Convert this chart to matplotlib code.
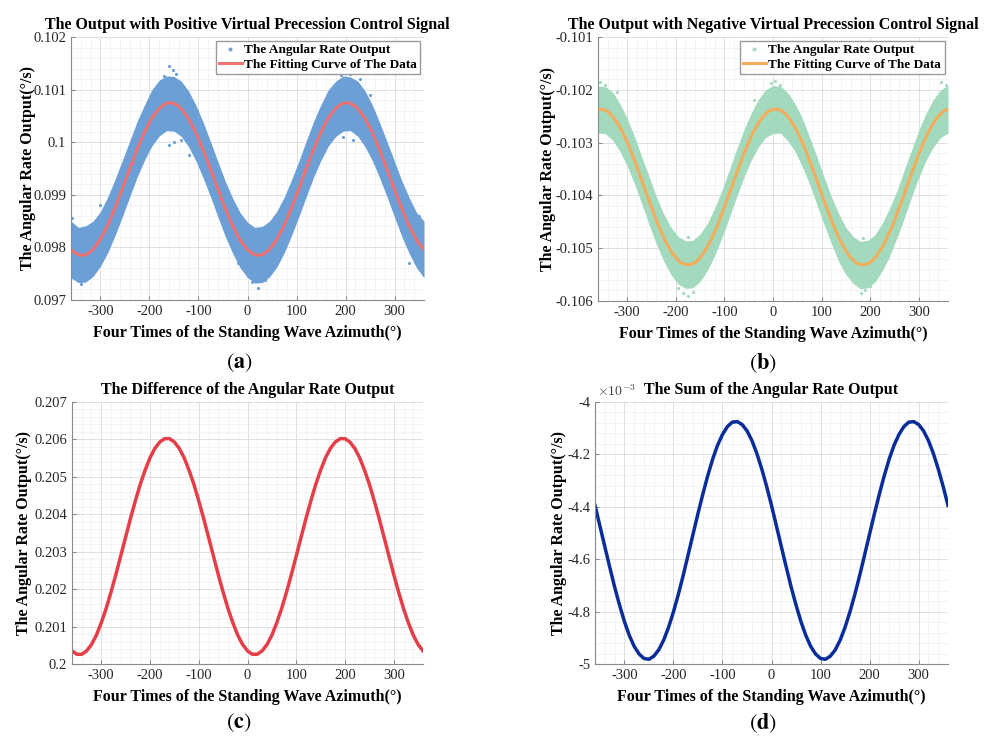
"""Four-panel angular rate output figure (positive / negative precession, difference, sum)."""

import matplotlib

matplotlib.use("Agg")

import matplotlib.pyplot as plt  # noqa: E402
from matplotlib.ticker import AutoMinorLocator, FuncFormatter, MultipleLocator  # noqa: E402

plt.rcParams["font.family"] = ["Liberation Serif", "DejaVu Serif"]
plt.rcParams["axes.unicode_minus"] = False
plt.rcParams["mathtext.fontset"] = "cm"

# ---- data (x: four times the standing wave azimuth, deg) ----
# fitted / smooth curves, sampled every 10 deg
azimuth = [-360, -350, -340, -330, -320, -310, -300, -290, -280, -270, -260, -250, -240,
           -230, -220, -210, -200, -190, -180, -170, -160, -150, -140, -130, -120, -110,
           -100, -90, -80, -70, -60, -50, -40, -30, -20, -10, 0, 10, 20, 30, 40, 50, 60,
           70, 80, 90, 100, 110, 120, 130, 140, 150, 160, 170, 180, 190, 200, 210, 220,
           230, 240, 250, 260, 270, 280, 290, 300, 310, 320, 330, 340, 350, 360]
# noisy-sample band envelopes, read every 15 deg
band_azimuth = [-360, -345, -330, -315, -300, -285, -270, -255, -240, -225, -210, -195, -180,
                -165, -150, -135, -120, -105, -90, -75, -60, -45, -30, -15, 0,
                15, 30, 45, 60, 75, 90, 105, 120, 135, 150, 165, 180,
                195, 210, 225, 240, 255, 270, 285, 300, 315, 330, 345, 360]

# (a) positive virtual precession control signal
pos_fit = [0.09796, 0.09788, 0.09785, 0.09786, 0.09792, 0.09802, 0.09816, 0.09833, 0.09853,
           0.09876, 0.09900, 0.09925, 0.09950, 0.09975, 0.09998, 0.10019, 0.10038, 0.10053,
           0.10064, 0.10072, 0.10075, 0.10074, 0.10068, 0.10058, 0.10044, 0.10027, 0.10007,
           0.09984, 0.09960, 0.09935, 0.09910, 0.09885, 0.09862, 0.09841, 0.09822, 0.09807,
           0.09796, 0.09788, 0.09785, 0.09786, 0.09792, 0.09802, 0.09816, 0.09833, 0.09853,
           0.09876, 0.09900, 0.09925, 0.09950, 0.09975, 0.09998, 0.10019, 0.10038, 0.10053,
           0.10064, 0.10072, 0.10075, 0.10074, 0.10068, 0.10058, 0.10044, 0.10027, 0.10007,
           0.09984, 0.09960, 0.09935, 0.09910, 0.09885, 0.09862, 0.09841, 0.09822, 0.09807,
           0.09796]
pos_upper = [0.09850, 0.09838, 0.09841, 0.09850, 0.09868, 0.09896, 0.09930, 0.09966, 0.10003,
             0.10040, 0.10071, 0.10100, 0.10118, 0.10126, 0.10125, 0.10116, 0.10097, 0.10070,
             0.10037, 0.10000, 0.09962, 0.09925, 0.09893, 0.09866, 0.09848, 0.09838, 0.09840,
             0.09850, 0.09869, 0.09896, 0.09929, 0.09965, 0.10003, 0.10040, 0.10072, 0.10100,
             0.10116, 0.10126, 0.10124, 0.10116, 0.10097, 0.10070, 0.10036, 0.10000, 0.09963,
             0.09926, 0.09894, 0.09866, 0.09850]
pos_lower = [0.09742, 0.09733, 0.09734, 0.09745, 0.09764, 0.09790, 0.09823, 0.09859, 0.09897,
             0.09934, 0.09966, 0.09993, 0.10012, 0.10022, 0.10021, 0.10011, 0.09991, 0.09964,
             0.09931, 0.09895, 0.09857, 0.09820, 0.09788, 0.09761, 0.09743, 0.09732, 0.09733,
             0.09744, 0.09763, 0.09790, 0.09823, 0.09859, 0.09897, 0.09934, 0.09966, 0.09993,
             0.10011, 0.10021, 0.10022, 0.10011, 0.09991, 0.09964, 0.09931, 0.09895, 0.09857,
             0.09820, 0.09788, 0.09761, 0.09742]
pos_out_x = [-358, -340, -322, -300, -170, -160, -152, -145, -160, -150, -135, -120,
             -20, 0, 10, 22, 35, 190, 200, 210, 230, 250, 195, 215, 330, 345, 355, 350]
pos_out_y = [0.09855, 0.09730, 0.09745, 0.09880, 0.10125, 0.10145, 0.10138, 0.10130,
             0.09995, 0.10000, 0.10005, 0.09975, 0.09770, 0.09745, 0.09735, 0.09722,
             0.09738, 0.10128, 0.10132, 0.10130, 0.10120, 0.10090, 0.10010, 0.10005,
             0.09770, 0.09770, 0.09765, 0.09860]

# (b) negative virtual precession control signal
neg_fit = [-0.10237, -0.10237, -0.10241, -0.10250, -0.10263, -0.10279, -0.10299, -0.10321,
           -0.10346, -0.10371, -0.10397, -0.10422, -0.10447, -0.10469, -0.10489, -0.10505,
           -0.10518, -0.10527, -0.10531, -0.10531, -0.10527, -0.10518, -0.10505, -0.10489,
           -0.10469, -0.10447, -0.10422, -0.10397, -0.10371, -0.10346, -0.10321, -0.10299,
           -0.10279, -0.10263, -0.10250, -0.10241,
           -0.10237, -0.10237, -0.10241, -0.10250, -0.10263, -0.10279, -0.10299, -0.10321,
           -0.10346, -0.10371, -0.10397, -0.10422, -0.10447, -0.10469, -0.10489, -0.10505,
           -0.10518, -0.10527, -0.10531, -0.10531, -0.10527, -0.10518, -0.10505, -0.10489,
           -0.10469, -0.10447, -0.10422, -0.10397, -0.10371, -0.10346, -0.10321, -0.10299,
           -0.10279, -0.10263, -0.10250, -0.10241, -0.10237]
neg_upper = [-0.10193, -0.10194, -0.10204, -0.10226, -0.10254, -0.10288, -0.10327, -0.10364,
             -0.10402, -0.10435, -0.10460, -0.10478, -0.10486, -0.10485, -0.10473, -0.10453,
             -0.10424, -0.10390, -0.10352, -0.10313, -0.10276, -0.10244, -0.10218, -0.10200,
             -0.10192, -0.10193, -0.10205, -0.10226, -0.10253, -0.10289, -0.10326, -0.10365,
             -0.10402, -0.10434, -0.10461, -0.10478, -0.10487, -0.10485, -0.10474, -0.10452,
             -0.10424, -0.10391, -0.10352, -0.10314, -0.10276, -0.10244, -0.10218, -0.10200,
             -0.10192]
neg_lower = [-0.10282, -0.10283, -0.10295, -0.10316, -0.10344, -0.10378, -0.10416, -0.10455,
             -0.10492, -0.10524, -0.10550, -0.10568, -0.10576, -0.10575, -0.10563, -0.10542,
             -0.10514, -0.10480, -0.10442, -0.10403, -0.10366, -0.10334, -0.10308, -0.10290,
             -0.10283, -0.10282, -0.10296, -0.10316, -0.10345, -0.10378, -0.10417, -0.10455,
             -0.10491, -0.10525, -0.10550, -0.10567, -0.10577, -0.10575, -0.10564, -0.10542,
             -0.10515, -0.10480, -0.10443, -0.10403, -0.10366, -0.10333, -0.10308, -0.10290,
             -0.10282]
neg_out_x = [-355, -345, -320, -5, 5, 15, -195, -185, -175, -165, -40, 180, 190, 200,
             345, 355, -175, 185]
neg_out_y = [-0.10185, -0.10190, -0.10205, -0.10188, -0.10183, -0.10190, -0.10575, -0.10585,
             -0.10590, -0.10582, -0.10220, -0.10585, -0.10580, -0.10572, -0.10185, -0.10190,
             -0.10478, -0.10480]

# (c) difference of the two outputs
diff_out = [0.20035, 0.20026, 0.20026, 0.20035, 0.20052, 0.20077, 0.20110, 0.20148, 0.20192,
            0.20239, 0.20289, 0.20339, 0.20389, 0.20436, 0.20480, 0.20518, 0.20551, 0.20576,
            0.20593, 0.20602, 0.20602, 0.20593, 0.20576, 0.20551, 0.20518, 0.20480, 0.20436,
            0.20389, 0.20339, 0.20289, 0.20239, 0.20192, 0.20148, 0.20110, 0.20077, 0.20052,
            0.20035, 0.20026, 0.20026, 0.20035, 0.20052, 0.20077, 0.20110, 0.20148, 0.20192,
            0.20239, 0.20289, 0.20339, 0.20389, 0.20436, 0.20480, 0.20518, 0.20551, 0.20576,
            0.20593, 0.20602, 0.20602, 0.20593, 0.20576, 0.20551, 0.20518, 0.20480, 0.20436,
            0.20389, 0.20339, 0.20289, 0.20239, 0.20192, 0.20148, 0.20110, 0.20077, 0.20052,
            0.20035]

# (d) sum of the two outputs, in units of 1e-3 deg/s
sum_out = [-4.395, -4.473, -4.552, -4.630, -4.706, -4.775, -4.838, -4.891, -4.933, -4.962,
           -4.979, -4.982, -4.970, -4.946, -4.909, -4.860, -4.801, -4.734, -4.661, -4.583,
           -4.504, -4.426, -4.351, -4.281, -4.218, -4.165, -4.124, -4.094, -4.077, -4.075,
           -4.086, -4.110, -4.147, -4.196, -4.255, -4.322,
           -4.395, -4.473, -4.552, -4.630, -4.706, -4.775, -4.838, -4.891, -4.933, -4.962,
           -4.979, -4.982, -4.970, -4.946, -4.909, -4.860, -4.801, -4.734, -4.661, -4.583,
           -4.504, -4.426, -4.351, -4.281, -4.218, -4.165, -4.124, -4.094, -4.077, -4.075,
           -4.086, -4.110, -4.147, -4.196, -4.255, -4.322, -4.395]

BLUE_PTS = "#6b9fd6"
RED_FIT = "#f07272"
GREEN_PTS = "#a3d9bd"
ORANGE_FIT = "#f3ad5a"
RED_LINE = "#e53e48"
NAVY_LINE = "#0b2d99"

XLABEL = "Four Times of the Standing Wave Azimuth(°)"
YLABEL = "The Angular Rate Output(°/s)"
TEXT_SIZE = 11.5


def style_axes(ax, ylim, ystep, title, ylabel_x):
    ax.set_xlim(-360, 360)
    ax.set_ylim(*ylim)
    ax.xaxis.set_major_locator(MultipleLocator(100))
    ax.yaxis.set_major_locator(MultipleLocator(ystep))
    ax.xaxis.set_minor_locator(AutoMinorLocator(5))
    ax.yaxis.set_minor_locator(AutoMinorLocator(5))
    ax.yaxis.set_major_formatter(FuncFormatter(lambda v, p: f"{round(v, 6):g}"))
    ax.grid(which="major", color="#dadada", linewidth=0.6)
    ax.grid(which="minor", color="#eeeeee", linewidth=0.5)
    ax.set_axisbelow(True)
    for side in ("top", "right"):
        ax.spines[side].set_visible(False)
    for side in ("left", "bottom"):
        ax.spines[side].set_color("#8a8a8a")
        ax.spines[side].set_linewidth(0.8)
    ax.tick_params(which="major", direction="in", length=3, color="#8a8a8a",
                   labelsize=10.5, labelcolor="#262626")
    ax.tick_params(which="minor", length=0)
    ax.set_title(title, fontsize=TEXT_SIZE, fontweight="bold", pad=6)
    ax.set_xlabel(XLABEL, fontsize=TEXT_SIZE, fontweight="bold")
    ax.set_ylabel(YLABEL, fontsize=TEXT_SIZE, fontweight="bold")
    ax.xaxis.set_label_coords(0.5, -0.095)
    ax.yaxis.set_label_coords(ylabel_x, 0.5)


fig = plt.figure(figsize=(9.93, 7.40), dpi=100)
fig.patch.set_facecolor("white")

ax_a = fig.add_axes([0.0715, 0.5946, 0.3555, 0.3554])
ax_b = fig.add_axes([0.6022, 0.5932, 0.3525, 0.3568])
ax_c = fig.add_axes([0.0725, 0.1027, 0.3535, 0.3541])
ax_d = fig.add_axes([0.5992, 0.1027, 0.3555, 0.3541])

# (a)
ax_a.fill_between(band_azimuth, pos_lower, pos_upper, color=BLUE_PTS, linewidth=0)
ax_a.plot(pos_out_x, pos_out_y, ".", color=BLUE_PTS, markersize=2.5,
          label="The Angular Rate Output")
ax_a.plot(azimuth, pos_fit, color=RED_FIT, linewidth=2.2, label="The Fitting Curve of The Data")
style_axes(ax_a, (0.097, 0.102), 0.001,
           "The Output with Positive Virtual Precession Control Signal", -0.10)

# (b)
ax_b.fill_between(band_azimuth, neg_lower, neg_upper, color=GREEN_PTS, linewidth=0)
ax_b.plot(neg_out_x, neg_out_y, ".", color=GREEN_PTS, markersize=2.5,
          label="The Angular Rate Output")
ax_b.plot(azimuth, neg_fit, color=ORANGE_FIT, linewidth=2.2, label="The Fitting Curve of The Data")
style_axes(ax_b, (-0.106, -0.101), 0.001,
           "The Output with Negative Virtual Precession Control Signal", -0.12)

for ax in (ax_a, ax_b):
    ax.legend(loc="upper right", bbox_to_anchor=(0.99, 0.985), borderaxespad=0,
              prop={"weight": "bold", "size": 9.5}, fancybox=False, edgecolor="#9a9a9a",
              framealpha=1, handlelength=1.7, handletextpad=0.2, borderpad=0.25,
              labelspacing=0.15, markerscale=1.5)

# (c)
ax_c.plot(azimuth, diff_out, color=RED_LINE, linewidth=2.5)
style_axes(ax_c, (0.200, 0.207), 0.001, "The Difference of the Angular Rate Output", -0.115)

# (d)
ax_d.plot(azimuth, sum_out, color=NAVY_LINE, linewidth=2.5)
style_axes(ax_d, (-5.0, -4.0), 0.2, "The Sum of the Angular Rate Output", -0.08)
ax_d.text(0.005, 1.012, r"$\times10^{-3}$", transform=ax_d.transAxes, fontsize=10,
          color="#404040", ha="left", va="bottom")

# panel letters: regular parentheses, bold letter
for letter, x, y in (("a", 0.2407, 0.5095), ("b", 0.7684, 0.5095),
                     ("c", 0.2407, 0.023), ("d", 0.7684, 0.023)):
    fig.text(x, y, r"$(\mathbf{" + letter + r"})$", ha="center", va="center",
             fontsize=16, math_fontfamily="stix")

fig.savefig("out.png", dpi=100, facecolor="white")
